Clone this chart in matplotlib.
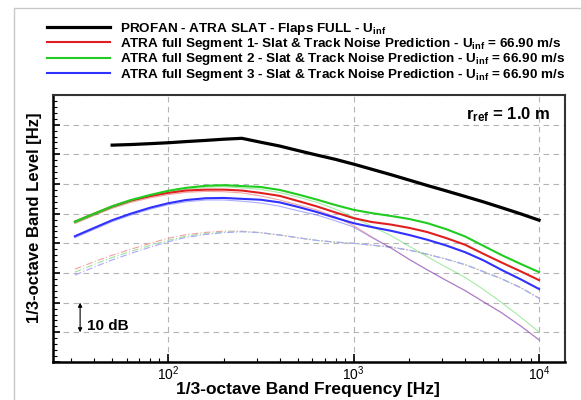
import matplotlib
matplotlib.use('Agg')
import matplotlib.pyplot as plt
from matplotlib.ticker import MultipleLocator, LogLocator, NullFormatter
from matplotlib.patches import Rectangle

plt.rcParams['font.family'] = ['Liberation Sans', 'DejaVu Sans']
plt.rcParams['mathtext.fontset'] = 'custom'
plt.rcParams['mathtext.rm'] = 'Liberation Sans'
plt.rcParams['mathtext.it'] = 'Liberation Sans:italic'
plt.rcParams['mathtext.bf'] = 'Liberation Sans:bold'

# 1/3-octave band centre frequencies
freq = [31.5, 40, 50, 63, 80, 100, 125, 160, 200, 250, 315, 400, 500, 630,
        800, 1000, 1250, 1600, 2000, 2500, 3150, 4000, 5000, 6300, 8000, 10000]
freq_profan = freq[2:]

# measurement (relative dB, 10 dB per grid step)
profan = [73.1, 73.3, 73.6, 73.9, 74.3, 74.7, 75.1, 75.4, 74.1, 72.8, 71.3, 69.8,
          68.3, 66.7, 65.0, 63.1, 61.3, 59.5, 57.7, 55.8, 54.0, 52.0, 49.9, 47.8]

# total predictions
seg1 = [47.3, 50.0, 52.4, 54.4, 55.9, 57.0, 57.8, 58.1, 58.1, 57.8, 57.0, 56.0, 54.3,
        52.5, 50.4, 48.5, 47.2, 46.3, 45.2, 43.8, 41.8, 39.5, 36.5, 33.5, 30.5, 27.6]
seg2 = [47.3, 50.0, 52.5, 54.6, 56.3, 57.7, 58.7, 59.4, 59.6, 59.3, 59.0, 58.0, 56.5,
        54.8, 52.9, 51.3, 50.2, 49.2, 48.2, 46.8, 44.8, 42.3, 39.2, 36.0, 33.0, 30.3]
seg3 = [42.4, 45.2, 47.8, 50.0, 52.0, 53.5, 54.6, 55.2, 55.3, 55.0, 54.7, 53.8, 52.3,
        50.6, 48.6, 46.8, 45.5, 44.2, 42.8, 41.2, 39.3, 37.0, 34.3, 31.0, 27.8, 24.6]

# slat component (thin)
seg1_slat = [46.7, 49.4, 51.8, 53.8, 55.3, 56.4, 57.2, 57.5, 57.4, 57.0, 56.0, 54.6, 53.0,
             51.3, 48.9, 46.0, 42.2, 38.4, 34.6, 31.1, 27.6, 24.1, 20.4, 16.6, 12.1, 7.5]
seg2_slat = [46.8, 49.5, 52.0, 54.1, 55.8, 57.2, 58.2, 58.9, 59.1, 58.7, 58.2, 57.1, 55.6,
             53.9, 51.5, 48.8, 45.8, 42.5, 39.0, 35.5, 32.0, 28.5, 24.5, 20.0, 15.0, 10.1]
seg3_slat = [41.9, 44.7, 47.3, 49.5, 51.5, 53.0, 54.0, 54.6, 54.6, 54.2, 53.6, 52.5, 51.0,
             49.6, 47.6, 45.5, 42.0, 38.3, 34.5, 31.0, 27.5, 24.0, 20.3, 16.5, 12.0, 7.4]

# track component (dash-dot)
seg1_track = [31.3, 33.8, 36.0, 38.0, 40.0, 41.7, 42.9, 43.7, 44.1, 44.1, 43.6, 42.8, 41.9,
              41.0, 40.4, 40.0, 39.4, 38.7, 37.7, 36.3, 34.7, 32.8, 30.5, 28.0, 25.0, 21.5]
seg2_track = [30.3, 32.9, 35.2, 37.3, 39.3, 41.0, 42.4, 43.3, 43.8, 44.0, 43.6, 42.8, 41.9,
              41.0, 40.4, 40.0, 39.4, 38.7, 37.7, 36.3, 34.7, 32.8, 30.5, 28.0, 25.0, 21.5]
seg3_track = [29.3, 32.0, 34.4, 36.6, 38.7, 40.5, 42.0, 43.0, 43.6, 43.9, 43.6, 42.8, 41.9,
              41.0, 40.4, 40.0, 39.4, 38.7, 37.7, 36.3, 34.7, 32.8, 30.5, 28.0, 25.0, 21.5]

labels = [
    'PROFAN - ATRA SLAT - Flaps FULL - U$_{\\mathbf{inf}}$',
    'ATRA full Segment 1- Slat & Track Noise Prediction - U$_{\\mathbf{inf}}$ = 66.90 m/s',
    'ATRA full Segment 2 - Slat & Track Noise Prediction - U$_{\\mathbf{inf}}$ = 66.90 m/s',
    'ATRA full Segment 3 - Slat & Track Noise Prediction - U$_{\\mathbf{inf}}$ = 66.90 m/s',
]
red = '#e02020'
green = '#20cc20'
blue = '#3030ff'

fig = plt.figure(figsize=(5.81, 4.0), dpi=100)
ax = fig.add_axes([53 / 581, 38 / 400, 512 / 581, 267 / 400])

# light frame around the figure
fig.patches.append(Rectangle((14 / 581, -0.1), 1.2, 1 - 8 / 400 + 0.1, transform=fig.transFigure,
                             fill=False, edgecolor='#c8c8c8', lw=1.0))

dd = (6, 2, 1, 2)
ax.plot(freq, seg1_track, color='#f4a0a0', lw=0.8, dashes=dd)
ax.plot(freq, seg2_track, color='#9fe39f', lw=0.8, dashes=dd)
ax.plot(freq, seg3_track, color='#a8a8ff', lw=0.8, dashes=dd)

ax.plot(freq, seg1_slat, color=red, lw=0.8, alpha=0.4)
ax.plot(freq, seg2_slat, color=green, lw=0.8, alpha=0.4)
ax.plot(freq, seg3_slat, color=blue, lw=0.8, alpha=0.4)

h0, = ax.plot(freq_profan, profan, color='black', lw=2.3, label=labels[0])
h1, = ax.plot(freq, seg1, color=red, lw=1.5, label=labels[1])
h2, = ax.plot(freq, seg2, color=green, lw=1.5, label=labels[2])
h3, = ax.plot(freq, seg3, color=blue, lw=1.5, label=labels[3])

ax.set_xscale('log')
ax.set_xlim(24.0, 13800)
ax.set_ylim(0, 90)
ax.yaxis.set_major_locator(MultipleLocator(10))
ax.yaxis.set_minor_locator(MultipleLocator(2))
ax.yaxis.set_major_formatter(NullFormatter())
ax.xaxis.set_major_locator(LogLocator(base=10, numticks=10))
ax.xaxis.set_minor_locator(LogLocator(base=10, subs=range(2, 10), numticks=10))
ax.xaxis.set_minor_formatter(NullFormatter())

ax.tick_params(axis='x', which='major', direction='in', length=6, width=1.2, labelsize=10, pad=1.5)
ax.tick_params(axis='x', which='minor', direction='in', length=3, width=0.8)
ax.tick_params(axis='y', which='major', direction='in', length=5, width=1.2)
ax.tick_params(axis='y', which='minor', direction='in', length=3, width=0.8)

ax.grid(True, which='major', color='#b4b4b4', lw=0.8, dashes=(5, 4))
ax.set_axisbelow(True)
for side in ['top', 'right']:
    ax.spines[side].set_color('#333333')
    ax.spines[side].set_linewidth(1.5)
for side in ['left', 'bottom']:
    ax.spines[side].set_color('black')
    ax.spines[side].set_linewidth(1.8)

ax.set_xlabel('1/3-octave Band Frequency [Hz]', fontsize=12.5, fontweight='bold')
ax.xaxis.set_label_coords(0.497, -0.075)
ax.set_ylabel('1/3-octave Band Level [Hz]', fontsize=12, fontweight='bold')
ax.yaxis.set_label_coords(-0.022, 0.54)

# 10 dB scale marker
ax.annotate('', xy=(33.6, 20), xytext=(33.6, 10),
            arrowprops=dict(arrowstyle='<|-|>', lw=0.8, color='black', mutation_scale=6,
                            shrinkA=0, shrinkB=0))
ax.text(36.6, 12.3, '10 dB', fontsize=11, fontweight='bold', va='center', ha='left')

ax.text(0.972, 0.925, 'r$_{\\mathbf{ref}}$ = 1.0 m', transform=ax.transAxes,
        fontsize=12, fontweight='bold', ha='right', va='center')

fig.legend(handles=[h0, h1, h2, h3], loc='upper left', bbox_to_anchor=(47 / 581, 1 - 21 / 400),
           frameon=False, prop={'weight': 'bold', 'size': 9.7}, handlelength=4.65,
           handletextpad=0.8, labelspacing=-0.06, borderpad=0, borderaxespad=0)

fig.savefig('out.png', dpi=100)
